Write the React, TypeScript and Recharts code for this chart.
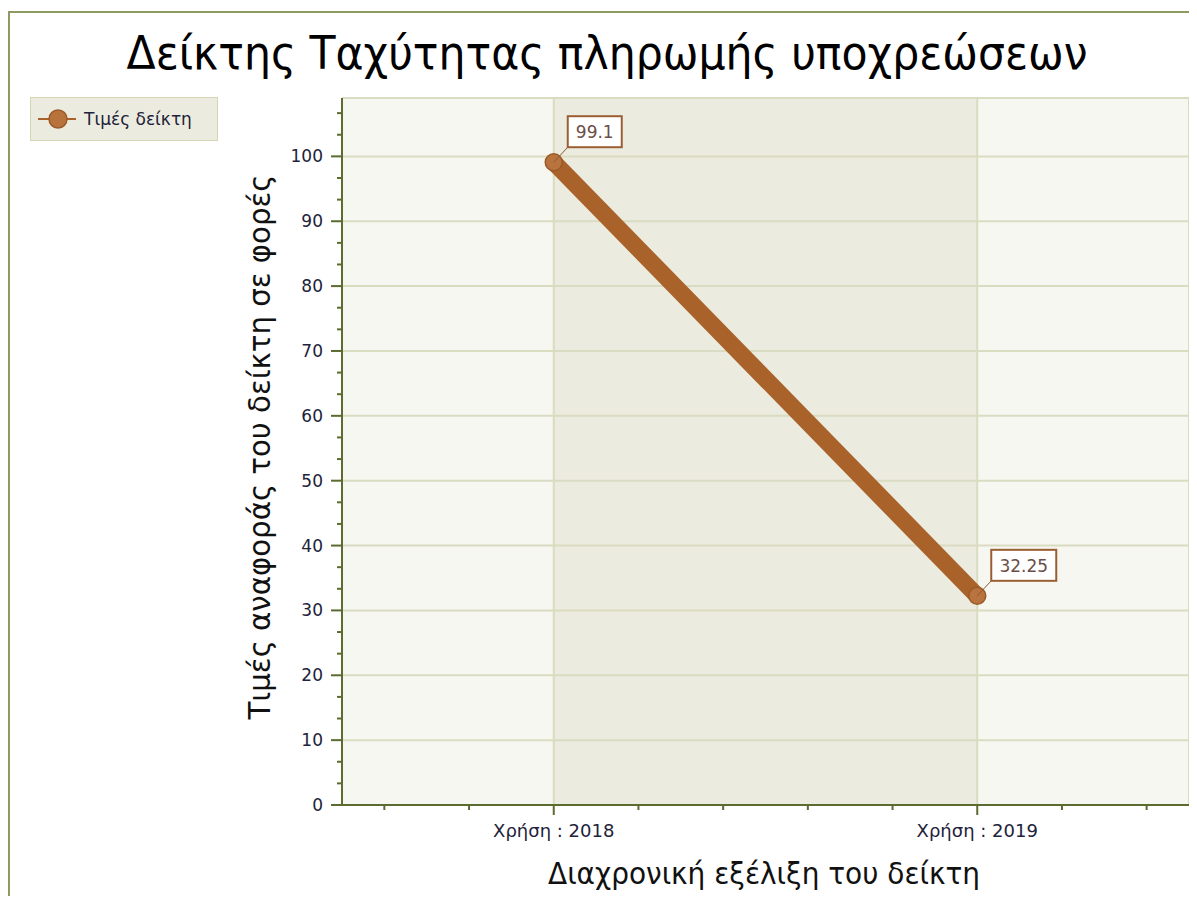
import React from 'react';
import { LineChart, Line, XAxis, YAxis, CartesianGrid, Legend, LabelList, ReferenceLine, Label } from 'recharts';

const title = 'Δείκτης Ταχύτητας πληρωμής υποχρεώσεων';
const seriesName = 'Τιμές δείκτη';
const yTitle = 'Τιμές αναφοράς του δείκτη σε φορές';
const xTitle = 'Διαχρονική εξέλιξη του δείκτη';

const categories = ['Χρήση : 2018', 'Χρήση : 2019'];
const values = [99.1, 32.25];

const yMajorTicks = [0, 10, 20, 30, 40, 50, 60, 70, 80, 90, 100];
const yMinorTicks = yMajorTicks.flatMap((v) => [v + 10 / 3, v + 20 / 3]);
const yMax = 109;
const xTicks = [-0.4, -0.2, 0, 0.2, 0.4, 0.6, 0.8, 1, 1.2, 1.4];

const data = categories.map((c, i) => ({ idx: i, category: c, value: values[i] }));

const FONT = '"DejaVu Sans", Verdana, sans-serif';
const AXIS = '#5c6b30';
const GRID = '#d9dcc0';
const LINE = '#a9622a';

const YTick = (props: any) => {
  const { x, y, payload } = props;
  const v = payload.value;
  const major = Math.abs(v - Math.round(v / 10) * 10) < 1e-6;
  return (
    <g>
      <line x1={x - (major ? 11 : 5)} y1={y} x2={x} y2={y} stroke={AXIS} strokeWidth={2} />
      {major && (
        <text x={x - 19} y={y} dy={6} textAnchor="end" fontSize={17} fontFamily={FONT} fill="#22223a">
          {v}
        </text>
      )}
    </g>
  );
};

const XTick = (props: any) => {
  const { x, y, payload } = props;
  const v = payload.value;
  const major = Math.abs(v - Math.round(v)) < 1e-6;
  return (
    <g>
      <line x1={x} y1={y} x2={x} y2={y + (major ? 10 : 5)} stroke={AXIS} strokeWidth={2} />
      {major && (
        <text x={x} y={y + 32} textAnchor="middle" fontSize={18} fontFamily={FONT} fill="#22223a">
          {categories[Math.round(v)]}
        </text>
      )}
    </g>
  );
};

const PointLabel = (props: any) => {
  const { x, y, value } = props;
  const text = String(value);
  const w = text.length * 11 + 10;
  return (
    <g>
      <line x1={x} y1={y} x2={x + 14} y2={y - 15} stroke="#8e5a35" strokeWidth={1} />
      <rect x={x + 14} y={y - 46} width={w} height={31} fill="#ffffff" stroke="#9b5e33" strokeWidth={2} />
      <text x={x + 14 + w / 2} y={y - 24} textAnchor="middle" fontSize={17} fontFamily={FONT} fill="#6b4e48">
        {text}
      </text>
    </g>
  );
};

const LegendBox = () => (
  <div
    style={{
      width: 188,
      height: 44,
      background: '#ecebdf',
      border: '1px solid #d6d6b4',
      display: 'flex',
      alignItems: 'center',
      boxSizing: 'border-box',
    }}
  >
    <svg width={50} height={24}>
      <line x1={7} y1={12} x2={45} y2={12} stroke={LINE} strokeWidth={2} />
      <circle cx={27} cy={12} r={9} fill="#b8733c" stroke="#9c5b2a" strokeWidth={1.5} />
    </svg>
    <span style={{ fontFamily: FONT, fontSize: 17, color: '#22223a', marginLeft: 3 }}>{seriesName}</span>
  </div>
);

export default function App() {
  return (
    <div style={{ position: 'relative', width: 1197, height: 904, margin: -8, overflow: 'hidden', background: '#ffffff' }}>
      <div
        style={{
          position: 'absolute',
          left: 8,
          top: 11,
          width: 1300,
          height: 1000,
          border: '2px solid #8d9b60',
        }}
      />
      <svg width={1197} height={100} style={{ position: 'absolute', left: 0, top: 0 }}>
        <text
          x={607}
          y={69}
          textAnchor="middle"
          fontSize={46}
          fontFamily={FONT}
          fill="#000000"
          textLength={961}
          lengthAdjust="spacingAndGlyphs"
        >
          {title}
        </text>
      </svg>
      <div style={{ position: 'absolute', left: 0, top: 0 }}>
        <LineChart width={1197} height={904} data={data} margin={{ top: 98, right: 8, bottom: 59, left: 282 }}>
          <CartesianGrid
            horizontalValues={yMajorTicks}
            verticalValues={[0, 1]}
            stroke={GRID}
            strokeWidth={2}
            fill="#f7f7f1"
            fillOpacity={1}
            verticalFill={['none', '#ecebdf', 'none']}
          />
          <ReferenceLine y={yMax} stroke={GRID} strokeWidth={2} />
          <ReferenceLine x={1.5} stroke={GRID} strokeWidth={2} />
          <XAxis
            dataKey="idx"
            type="number"
            domain={[-0.5, 1.5]}
            ticks={xTicks}
            interval={0}
            tickSize={0}
            tickMargin={0}
            tick={<XTick />}
            height={40}
            stroke={AXIS}
            strokeWidth={2}
            allowDataOverflow
          >
            <Label
              content={() => (
                <text
                  x={764}
                  y={884}
                  textAnchor="middle"
                  fontSize={30}
                  fontFamily={FONT}
                  fill="#111111"
                  textLength={432}
                  lengthAdjust="spacingAndGlyphs"
                >
                  {xTitle}
                </text>
              )}
            />
          </XAxis>
          <YAxis
            type="number"
            domain={[0, yMax]}
            ticks={[...yMajorTicks, ...yMinorTicks]}
            interval={0}
            tickSize={0}
            tickMargin={0}
            tick={<YTick />}
            width={60}
            stroke={AXIS}
            strokeWidth={2}
            allowDataOverflow
          >
            <Label
              content={() => (
                <text
                  x={270}
                  y={447}
                  transform="rotate(-90 270 447)"
                  textAnchor="middle"
                  fontSize={30}
                  fontFamily={FONT}
                  fill="#111111"
                  textLength={545}
                  lengthAdjust="spacingAndGlyphs"
                >
                  {yTitle}
                </text>
              )}
            />
          </YAxis>
          <Legend
            layout="horizontal"
            verticalAlign="middle"
            align="center"
            content={() => <LegendBox />}
            wrapperStyle={{ position: 'absolute', left: 30, top: 97, width: 188, height: 44 }}
          />
          <Line
            type="linear"
            dataKey="value"
            name={seriesName}
            stroke={LINE}
            strokeWidth={17}
            dot={{ r: 8.5, fill: '#b8733e', stroke: '#9a5a28', strokeWidth: 1.5 }}
            activeDot={false}
            isAnimationActive={false}
          >
            <LabelList dataKey="value" content={<PointLabel />} />
          </Line>
        </LineChart>
      </div>
    </div>
  );
}
